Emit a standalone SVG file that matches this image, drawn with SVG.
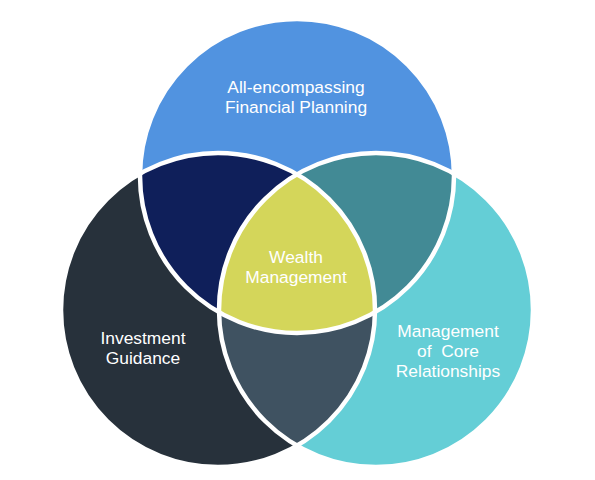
<svg xmlns="http://www.w3.org/2000/svg" width="595" height="480" viewBox="0 0 595 480">
<style>
.lbl{font-family:"Liberation Sans",Arial,sans-serif;font-size:17.4px;fill:#FFFFFF;text-anchor:middle;white-space:pre}
.ring{fill:none;stroke:#FFFFFF;stroke-width:4.5}
</style>
<defs>
<circle id="cT" cx="297" cy="176" r="157"/>
<circle id="cL" cx="218" cy="310" r="157"/>
<circle id="cR" cx="376" cy="310" r="157"/>
<clipPath id="clipT"><use href="#cT"/></clipPath>
<clipPath id="clipL"><use href="#cL"/></clipPath>
<clipPath id="clipR"><use href="#cR"/></clipPath>
</defs>
<rect width="595" height="480" fill="#FFFFFF"/>
<g id="financial-planning">
<use href="#cT" fill="#5193E0"/>
</g>
<g id="investment-guidance">
<use href="#cL" fill="#27313B"/>
</g>
<g id="core-relationships">
<use href="#cR" fill="#64CED6"/>
</g>
<g id="overlap-top-left" clip-path="url(#clipT)"><use href="#cL" fill="#0F1F5A"/></g>
<g id="overlap-top-right" clip-path="url(#clipT)"><use href="#cR" fill="#428A95"/></g>
<g id="overlap-left-right" clip-path="url(#clipL)"><use href="#cR" fill="#3F5261"/></g>
<g id="wealth-management" clip-path="url(#clipT)"><g clip-path="url(#clipL)"><use href="#cR" fill="#D4D65A"/></g></g>
<g id="outlines">
<use href="#cT" class="ring"/>
<use href="#cL" class="ring"/>
<use href="#cR" class="ring"/>
</g>
<g id="labels">
<text class="lbl" x="296" y="93">All-encompassing</text>
<text class="lbl" x="296" y="113">Financial Planning</text>
<text class="lbl" x="143" y="344">Investment</text>
<text class="lbl" x="143" y="364">Guidance</text>
<text class="lbl" x="296" y="263">Wealth</text>
<text class="lbl" x="296" y="283">Management</text>
<text class="lbl" x="448" y="337">Management</text>
<text class="lbl" x="448" y="357">of  Core</text>
<text class="lbl" x="448" y="377">Relationships</text>
</g>
</svg>
